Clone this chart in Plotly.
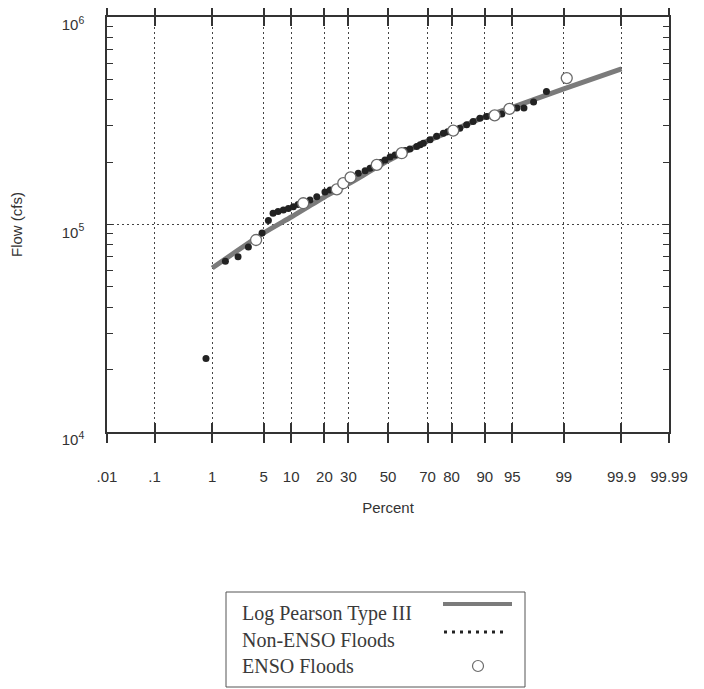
import plotly.graph_objects as go
from statistics import NormalDist

nd = NormalDist()

# ---------------- data ----------------
tick_percent = [0.01, 0.1, 1, 5, 10, 20, 30, 50, 70, 80, 90, 95, 99, 99.9, 99.99]
tick_labels = [".01", ".1", "1", "5", "10", "20", "30", "50", "70", "80", "90", "95", "99", "99.9", "99.99"]

lp3_percent = [1, 5, 10, 20, 30, 50, 70, 80, 90, 95, 99, 99.9]
lp3_flow = [61700, 91000, 108700, 135700, 156900, 202500, 252900, 282700, 330200, 367000, 450800, 563000]

nonenso_percent = [0.80, 1.57, 2.36, 3.23, 4.78, 5.67, 6.41, 7.28, 8.30, 9.36, 10.51, 11.7,
                   15.1, 17.3, 20.2, 22.2, 34.7, 38.1, 40.6, 42.5, 46.0, 48.4, 51.1, 53.7,
                   56.5, 59.0, 61.4, 64.8, 66.5, 68.0, 71.1, 74.0, 76.8, 78.5, 82.9, 85.1,
                   87.0, 88.8, 90.4, 93.4, 95.6, 96.4, 97.3, 98.2]
nonenso_flow = [22600, 66600, 69900, 77900, 91000, 104500, 113200, 115500, 117500, 119500, 121900, 124900,
                131300, 136200, 143500, 146800, 176600, 181800, 186700, 190000, 199000, 204800, 211700, 216500,
                223000, 227000, 231400, 237400, 242000, 246600, 255800, 265900, 275600, 280000, 291300, 302200,
                313400, 325500, 331400, 340400, 363800, 363800, 388900, 437400]

enso_percent = [4.04, 13.1, 24.9, 27.7, 31.0, 44.1, 57.2, 80.6, 92.1, 94.6, 99.10]
enso_flow = [84200, 126600, 147600, 158100, 168600, 193700, 220600, 283600, 335800, 360900, 507700]

y_major = [1e4, 1e5, 1e6]
y_major_text = ["10<sup>4</sup>", "10<sup>5</sup>", "10<sup>6</sup>"]


def z(p):
    return nd.inv_cdf(p / 100.0)


x_range = [z(0.01), z(99.99)]
x_tickvals = [z(p) for p in tick_percent]
y_minor = [m * 10 ** e for e in (4, 5) for m in range(2, 10)]

AX = "#333333"
GRID = "#444444"
SANS = "Liberation Sans, Arial, Helvetica, sans-serif"
SERIF = "Liberation Serif, Times New Roman, serif"

# page offset (browser default body margin) and plot-area edges in window pixels
OFF = 8
L, R, T, B = 107, 669, 17, 432
W, H = 704 - OFF, 689 - OFF

fig = go.Figure()
fig.add_trace(go.Scatter(
    x=[z(p) for p in lp3_percent], y=lp3_flow, mode="lines",
    line=dict(color="#7b7b7b", width=5, shape="spline", smoothing=0.6),
    name="Log Pearson Type III", showlegend=False))
fig.add_trace(go.Scatter(
    x=[z(p) for p in nonenso_percent], y=nonenso_flow, mode="markers",
    marker=dict(color="#222222", size=7),
    name="Non-ENSO Floods", showlegend=False))
fig.add_trace(go.Scatter(
    x=[z(p) for p in enso_percent], y=enso_flow, mode="markers",
    marker=dict(color="white", size=11, line=dict(color="#6a6a6a", width=1.3)),
    name="ENSO Floods", showlegend=False))

fig.update_layout(
    width=W, height=H,
    margin=dict(l=L - OFF, r=W - (R - OFF), t=T - OFF, b=H - (B - OFF), autoexpand=False),
    paper_bgcolor="white", plot_bgcolor="white",
    font=dict(family=SANS, color="#333333"),
    xaxis=dict(
        range=x_range, tickmode="array", tickvals=x_tickvals, ticktext=tick_labels,
        showline=True, linecolor=AX, linewidth=1.5, mirror="ticks",
        ticks="outside", ticklen=9, tickwidth=1.5, tickcolor=AX, automargin=False,
        ticklabelstandoff=21, ticklabeloverflow="allow",
        tickfont=dict(size=15, family=SANS, color="#333333"),
        showgrid=True, gridcolor=GRID, gridwidth=1, griddash="2px,3px",
        zeroline=False,
        title=dict(text="Percent", font=dict(size=15, family=SANS, color="#333333"), standoff=19),
    ),
    xaxis2=dict(
        range=x_range, overlaying="x", anchor="y", side="bottom",
        tickmode="array", tickvals=x_tickvals, showticklabels=False,
        showline=True, linecolor=AX, linewidth=1.5, mirror="ticks",
        ticks="inside", ticklen=9, tickwidth=1.5, tickcolor=AX, automargin=False,
        showgrid=False, zeroline=False,
    ),
    yaxis=dict(
        type="log", range=[4, 6], tickmode="array", tickvals=y_major, ticktext=y_major_text,
        showline=True, linecolor=AX, linewidth=1.5, mirror="ticks",
        ticks="inside", ticklen=6, tickwidth=1.2, tickcolor=AX, automargin=False,
        ticklabelstandoff=18, ticklabelshift=8, ticklabeloverflow="allow",
        tickfont=dict(size=15, family=SANS, color="#333333"),
        showgrid=True, gridcolor=GRID, gridwidth=1, griddash="2px,3px",
        zeroline=False,
        title=dict(text="Flow (cfs)", font=dict(size=15, family=SANS, color="#333333"), standoff=35),
    ),
    yaxis2=dict(
        type="log", range=[4, 6], overlaying="y", anchor="x", side="left",
        tickmode="array", tickvals=y_minor, showticklabels=False,
        showline=False, mirror="ticks", automargin=False,
        ticks="inside", ticklen=6, tickwidth=1.2, tickcolor=AX,
        showgrid=False, zeroline=False,
    ),
)

# invisible trace that activates the overlay axes
fig.add_trace(go.Scatter(x=[x_range[0]], y=[1e4], xaxis="x2", yaxis="y2",
                         mode="markers", marker=dict(opacity=0), showlegend=False, hoverinfo="skip"))


# ---------------- manual legend (symbols to the right of text) ----------------
def fx(px):
    return (px - L) / (R - L)


def fy(py):
    return (B - py) / (B - T)


shapes = [
    dict(type="rect", xref="paper", yref="paper", x0=fx(226), x1=fx(525), y0=fy(592), y1=fy(687),
         line=dict(color="#555555", width=1), fillcolor="white"),
    dict(type="line", xref="paper", yref="paper", x0=fx(443), x1=fx(512), y0=fy(604), y1=fy(604),
         line=dict(color="#7b7b7b", width=4)),
    dict(type="line", xref="paper", yref="paper", x0=fx(444), x1=fx(507), y0=fy(632), y1=fy(632),
         line=dict(color="#222222", width=3, dash="3px,5px")),
    dict(type="circle", xref="paper", yref="paper", x0=fx(472.5), x1=fx(483.5), y0=fy(671.5), y1=fy(660.5),
         line=dict(color="#6a6a6a", width=1.2), fillcolor="white"),
]
fig.update_layout(shapes=shapes)

legend_texts = ["Log Pearson Type III", "Non-ENSO Floods", "ENSO Floods"]
legend_rows = [613, 640, 666]
for txt, py in zip(legend_texts, legend_rows):
    fig.add_annotation(xref="paper", yref="paper", x=fx(240), y=fy(py), text=txt,
                       showarrow=False, xanchor="left", yanchor="middle",
                       font=dict(family=SERIF, size=20, color="#3a3a3a"))

fig.write_html("out.html")
